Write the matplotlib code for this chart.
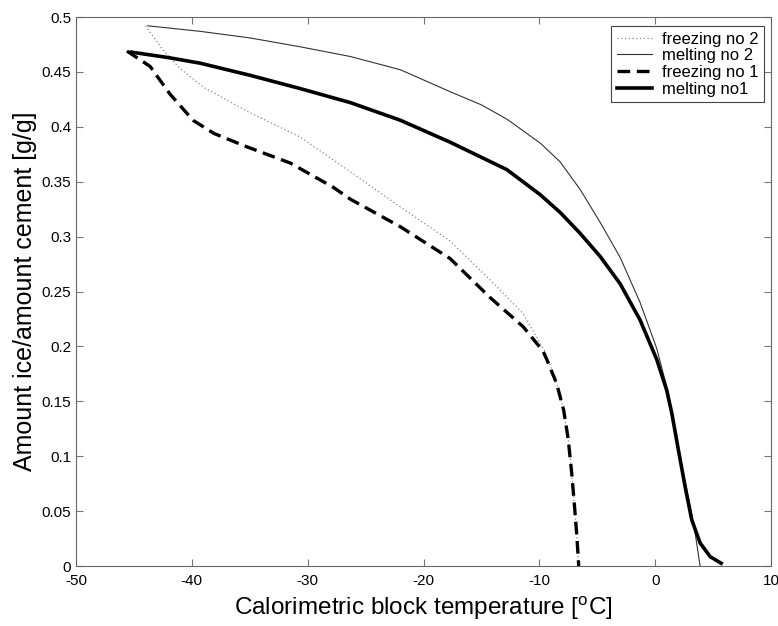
import numpy as np
import matplotlib
matplotlib.use("Agg")
import matplotlib.pyplot as plt

plt.rcParams['font.family'] = ['Liberation Sans', 'DejaVu Sans']
plt.rcParams['mathtext.fontset'] = 'custom'
plt.rcParams['mathtext.rm'] = 'Liberation Sans'
plt.rcParams['axes.unicode_minus'] = False

# freezing no 2 (dotted)
fr2_t = [-44.0, -42.5, -41.0, -39.0, -37.6, -35.0, -30.7, -26.3, -22.0, -17.7,
         -14.3, -11.4, -9.5, -8.5, -7.9, -7.5, -7.2, -6.96, -6.76, -6.6]
fr2_y = [0.492, 0.470, 0.453, 0.436, 0.428, 0.413, 0.391, 0.359, 0.327, 0.296,
         0.261, 0.230, 0.195, 0.166, 0.142, 0.115, 0.084, 0.054, 0.027, 0.0]

# melting no 2 (thin solid)
me2_t = [-43.8, -39.3, -35.0, -30.7, -26.3, -22.0, -17.7, -15.0, -12.8, -9.9,
         -8.2, -6.48, -4.75, -3.02, -1.3, 0.14, 1.15, 1.73, 2.45, 3.03, 3.45, 3.88]
me2_y = [0.492, 0.487, 0.481, 0.473, 0.464, 0.452, 0.432, 0.420, 0.407, 0.385,
         0.368, 0.343, 0.313, 0.281, 0.240, 0.198, 0.157, 0.121, 0.084, 0.054, 0.030, 0.0]

# freezing no 1 (dashed)
fr1_t = [-45.6, -43.6, -41.9, -39.9, -38.1, -35.3, -31.5, -27.8, -26.3, -22.0,
         -17.7, -14.3, -11.4, -9.7, -9.35, -8.5, -7.9, -7.5, -7.2, -6.96, -6.76, -6.6]
fr1_y = [0.469, 0.455, 0.430, 0.406, 0.394, 0.382, 0.367, 0.345, 0.334, 0.309,
         0.280, 0.245, 0.218, 0.196, 0.188, 0.166, 0.142, 0.115, 0.084, 0.054, 0.027, 0.0]

# melting no1 (thick solid)
me1_t = [-45.2, -42.0, -39.3, -35.0, -30.7, -26.3, -22.0, -17.7, -12.8, -9.9,
         -8.2, -6.48, -4.75, -3.02, -1.3, 0.14, 1.0, 1.44, 2.0, 2.59, 3.16, 3.88, 4.75, 5.7]
me1_y = [0.468, 0.463, 0.458, 0.447, 0.435, 0.422, 0.406, 0.386, 0.361, 0.338,
         0.322, 0.303, 0.282, 0.257, 0.224, 0.188, 0.160, 0.139, 0.106, 0.072, 0.042, 0.021, 0.0085, 0.0025]

fig = plt.figure(figsize=(7.78, 6.26), dpi=100)
ax = fig.add_axes([0.0977, 0.0958, 0.8933, 0.877])

ax.plot(fr2_t, fr2_y, color="#888888", lw=0.9, ls=(0, (1, 2)), label="freezing no 2")
ax.plot(me2_t, me2_y, color="#333333", lw=0.8, ls="-", label="melting no 2")
ax.plot(fr1_t, fr1_y, color="black", lw=2.4, ls=(0, (3.8, 2.0)), label="freezing no 1")
ax.plot(me1_t, me1_y, color="black", lw=2.6, ls="-", label="melting no1")

ax.set_xlim(-50, 10)
ax.set_ylim(0, 0.5)
ax.set_xticks(np.arange(-50, 11, 10))
ax.set_yticks(np.arange(0, 0.501, 0.05))
ax.set_yticklabels(["0", "0.05", "0.1", "0.15", "0.2", "0.25", "0.3", "0.35", "0.4", "0.45", "0.5"])
ax.tick_params(direction="in", top=True, right=True, labelsize=11, color="#777777", length=5)
ax.tick_params(axis="x", pad=6)
for sp in ax.spines.values():
    sp.set_color("#666666")
    sp.set_linewidth(0.8)

ax.set_xlabel(r"Calorimetric block temperature [$^{\rm o}$C]", fontsize=17.5, labelpad=4)
ax.set_ylabel("Amount ice/amount cement [g/g]", fontsize=18, labelpad=3)

leg = ax.legend(loc="upper right", fontsize=12, fancybox=False, framealpha=1,
                edgecolor="#444444", handlelength=2.1, borderpad=0.35, labelspacing=0.1,
                handletextpad=0.6, borderaxespad=0, bbox_to_anchor=(0.990, 0.984))
leg.get_frame().set_linewidth(0.8)

fig.savefig("out.png", dpi=100)
